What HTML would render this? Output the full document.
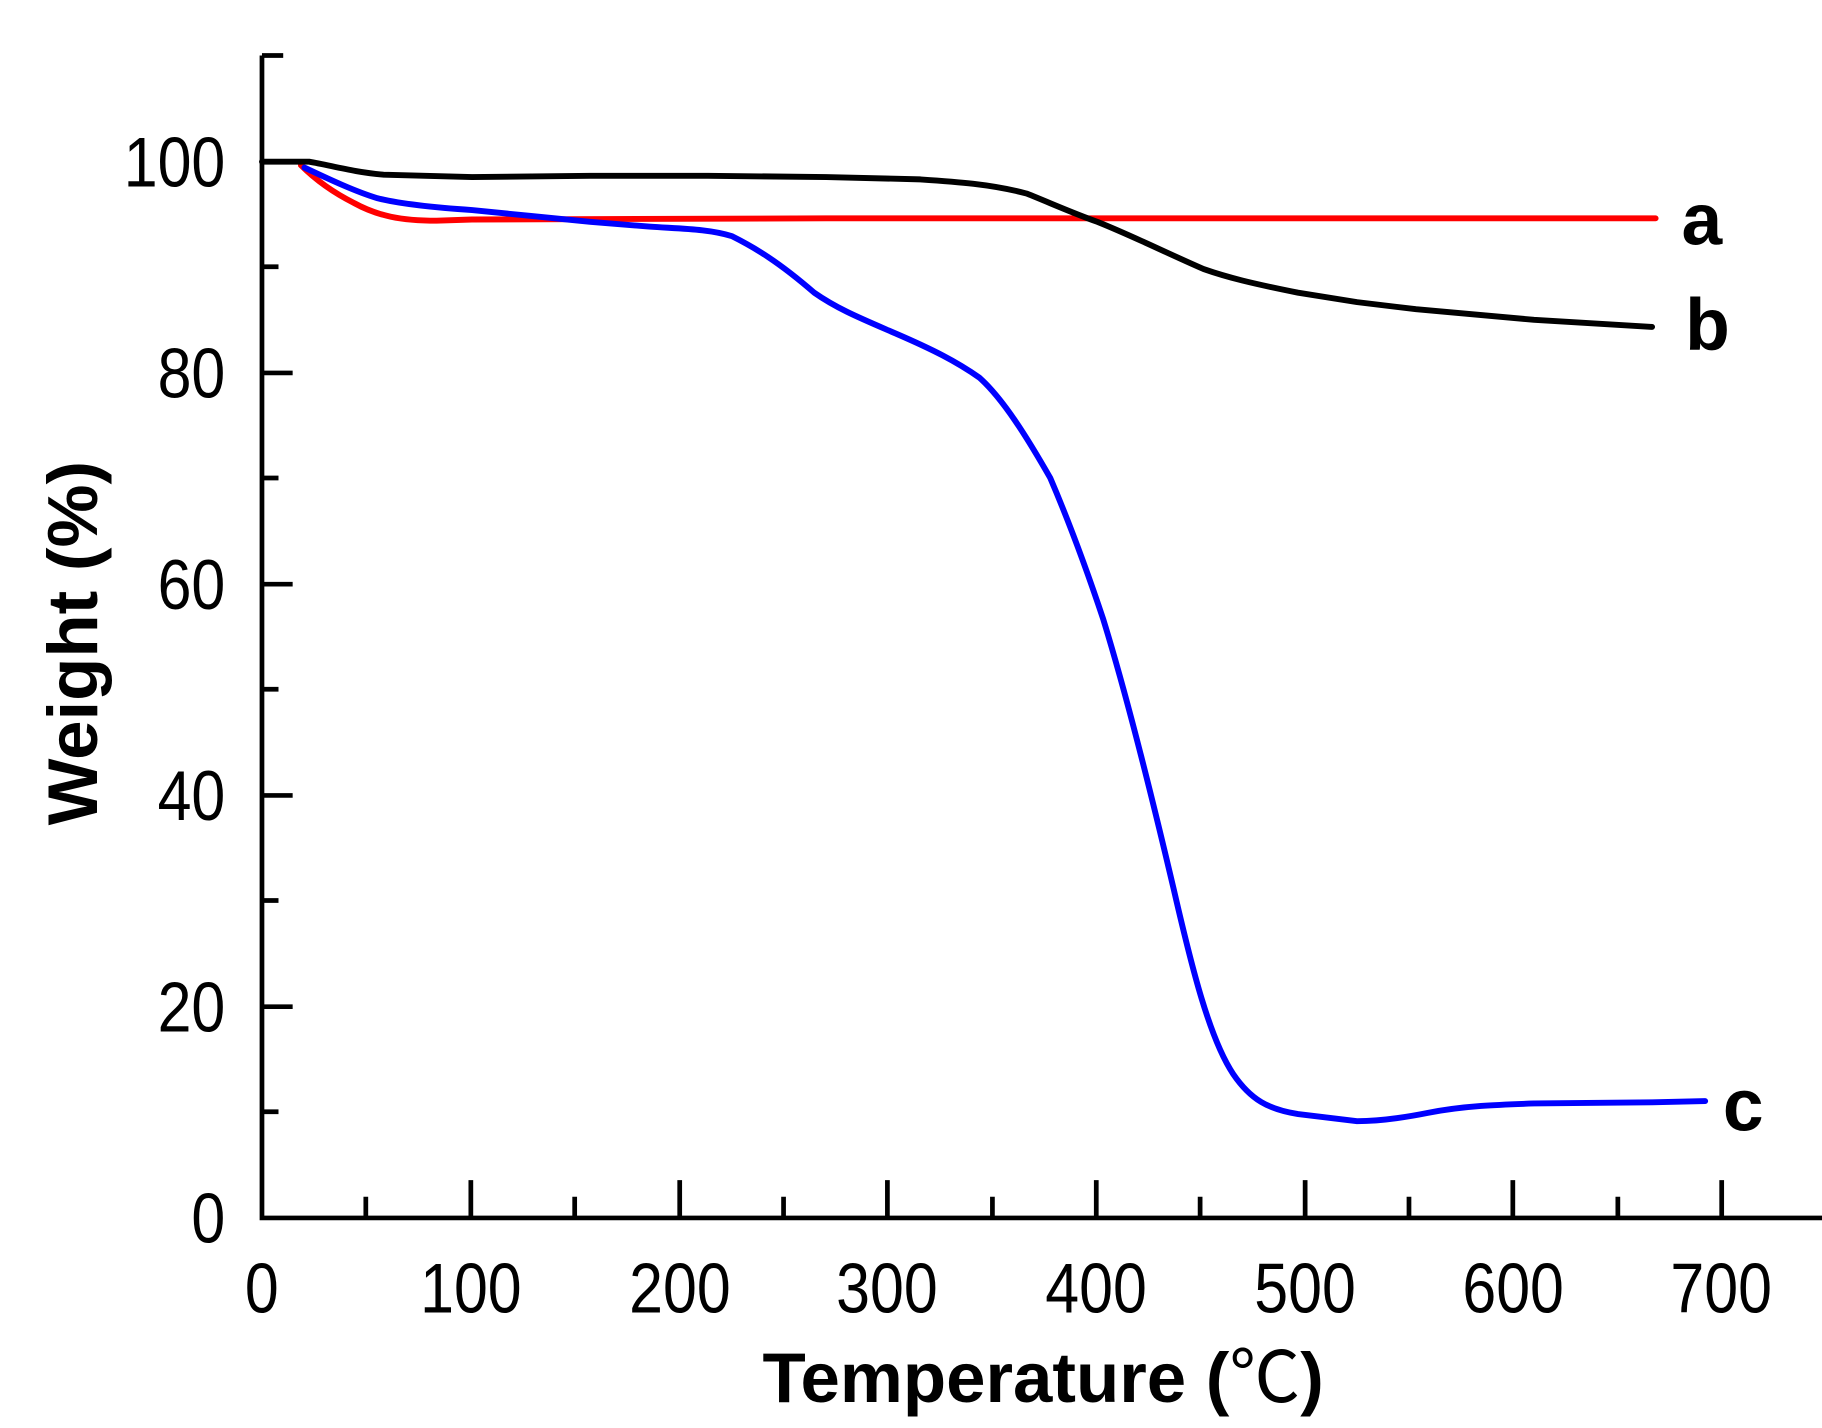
<!DOCTYPE html>
<html><head><meta charset="utf-8"><style>html,body{margin:0;padding:0;background:#fff}svg{display:block}</style></head>
<body>
<svg width="1822" height="1428" viewBox="0 0 1544 1210" preserveAspectRatio="none" xmlns="http://www.w3.org/2000/svg">
<g stroke="#000" stroke-width="4" fill="none">
<path d="M222,47 V1032 H1544"/>
<path d="M222,47 H240 M222,137 H248 M222,226 H236 M222,316 H248 M222,405 H236 M222,495 H248 M222,584 H236 M222,674 H248 M222,763 H236 M222,853 H248 M222,942 H236"/>
<path d="M310,1032 V1014 M399,1032 V1000 M487,1032 V1014 M576,1032 V1000 M664,1032 V1014 M752,1032 V1000 M841,1032 V1014 M929,1032 V1000 M1017,1032 V1014 M1106,1032 V1000 M1194,1032 V1014 M1282,1032 V1000 M1371,1032 V1014 M1459,1032 V1000"/>
</g>
<g font-family="Liberation Sans, sans-serif" font-size="60" fill="#000">
<g text-anchor="end" transform="scale(0.86,1)">
<text x="222" y="158">100</text><text x="222" y="337">80</text><text x="222" y="516">60</text><text x="222" y="695">40</text><text x="222" y="874">20</text><text x="222" y="1053">0</text>
</g>
<g text-anchor="middle" transform="scale(0.86,1)">
<text x="258" y="1112">0</text><text x="464" y="1112">100</text><text x="670" y="1112">200</text><text x="874" y="1112">300</text><text x="1080" y="1112">400</text><text x="1286" y="1112">500</text><text x="1491" y="1112">600</text><text x="1696" y="1112">700</text>
</g>
<text x="884" y="1188" text-anchor="middle" font-weight="bold" font-size="60">Temperature (<tspan font-weight="normal" font-family="Noto Sans CJK SC, sans-serif">℃</tspan>)</text>
<text transform="translate(82,545) rotate(-90)" text-anchor="middle" font-weight="bold" font-size="60">Weight (%)</text>
<g font-weight="bold" font-size="62"><text x="1425" y="207">a</text><text x="1428" y="296">b</text><text x="1460" y="958">c</text></g>
</g>
<g fill="none" stroke-width="5" stroke-linejoin="round" stroke-linecap="round">
<path stroke="#f00" d="M255,140 C265,150 280,162 300,172 C320,183 340,187 370,187 L400,186 L700,185 L1000,185 L1403,185"/>
<path stroke="#000" d="M222,137 L262,137 C280,140 300,146 325,148 L400,150 L500,149 L600,149 L700,150 L780,152 C810,154 840,156 870,164 C890,172 910,181 930,188 C960,200 990,215 1020,228 C1040,235 1060,240 1100,248 L1150,256 L1200,262 L1300,271 L1400,277"/>
<path stroke="#00f" d="M258,142 C275,150 300,162 320,168 C340,173 370,176 400,178 L450,183 L500,188 L550,192 C580,194 600,194 620,200 C640,210 660,222 690,248 C710,262 730,270 760,283 C790,296 810,306 830,320 C850,338 870,370 890,405 C905,440 920,480 935,525 C955,590 975,670 995,755 C1010,820 1025,880 1045,910 C1060,932 1075,940 1100,944 L1150,950 C1170,950 1190,947 1210,943 C1240,937 1270,936 1300,935 L1400,934 L1445,933"/>
</g>
</svg>
</body></html>
